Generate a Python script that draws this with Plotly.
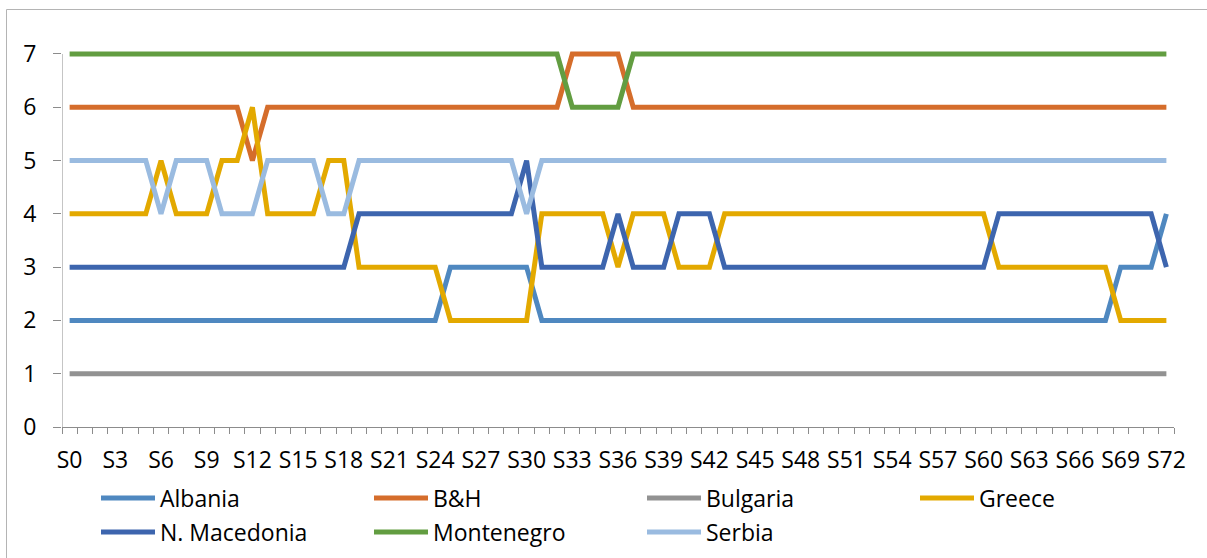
import plotly.graph_objects as go

# Session index and the category labels shown on the x axis
session_index = list(range(73))
session_labels = [f"S{i}" for i in session_index]
tick_index = session_index[::3]
tick_labels = session_labels[::3]

# Rank of each country per session (1 = lowest, 7 = highest)
albania = [2, 2, 2, 2, 2, 2, 2, 2, 2, 2, 2, 2, 2, 2, 2, 2, 2, 2, 2, 2,
           2, 2, 2, 2, 2, 3, 3, 3, 3, 3, 3, 2, 2, 2, 2, 2, 2, 2, 2, 2,
           2, 2, 2, 2, 2, 2, 2, 2, 2, 2, 2, 2, 2, 2, 2, 2, 2, 2, 2, 2,
           2, 2, 2, 2, 2, 2, 2, 2, 2, 3, 3, 3, 4]
bih = [6, 6, 6, 6, 6, 6, 6, 6, 6, 6, 6, 6, 5, 6, 6, 6, 6, 6, 6, 6,
       6, 6, 6, 6, 6, 6, 6, 6, 6, 6, 6, 6, 6, 7, 7, 7, 7, 6, 6, 6,
       6, 6, 6, 6, 6, 6, 6, 6, 6, 6, 6, 6, 6, 6, 6, 6, 6, 6, 6, 6,
       6, 6, 6, 6, 6, 6, 6, 6, 6, 6, 6, 6, 6]
bulgaria = [1, 1, 1, 1, 1, 1, 1, 1, 1, 1, 1, 1, 1, 1, 1, 1, 1, 1, 1, 1,
            1, 1, 1, 1, 1, 1, 1, 1, 1, 1, 1, 1, 1, 1, 1, 1, 1, 1, 1, 1,
            1, 1, 1, 1, 1, 1, 1, 1, 1, 1, 1, 1, 1, 1, 1, 1, 1, 1, 1, 1,
            1, 1, 1, 1, 1, 1, 1, 1, 1, 1, 1, 1, 1]
greece = [4, 4, 4, 4, 4, 4, 5, 4, 4, 4, 5, 5, 6, 4, 4, 4, 4, 5, 5, 3,
          3, 3, 3, 3, 3, 2, 2, 2, 2, 2, 2, 4, 4, 4, 4, 4, 3, 4, 4, 4,
          3, 3, 3, 4, 4, 4, 4, 4, 4, 4, 4, 4, 4, 4, 4, 4, 4, 4, 4, 4,
          4, 3, 3, 3, 3, 3, 3, 3, 3, 2, 2, 2, 2]
n_macedonia = [3, 3, 3, 3, 3, 3, 3, 3, 3, 3, 3, 3, 3, 3, 3, 3, 3, 3, 3, 4,
               4, 4, 4, 4, 4, 4, 4, 4, 4, 4, 5, 3, 3, 3, 3, 3, 4, 3, 3, 3,
               4, 4, 4, 3, 3, 3, 3, 3, 3, 3, 3, 3, 3, 3, 3, 3, 3, 3, 3, 3,
               3, 4, 4, 4, 4, 4, 4, 4, 4, 4, 4, 4, 3]
montenegro = [7, 7, 7, 7, 7, 7, 7, 7, 7, 7, 7, 7, 7, 7, 7, 7, 7, 7, 7, 7,
              7, 7, 7, 7, 7, 7, 7, 7, 7, 7, 7, 7, 7, 6, 6, 6, 6, 7, 7, 7,
              7, 7, 7, 7, 7, 7, 7, 7, 7, 7, 7, 7, 7, 7, 7, 7, 7, 7, 7, 7,
              7, 7, 7, 7, 7, 7, 7, 7, 7, 7, 7, 7, 7]
serbia = [5, 5, 5, 5, 5, 5, 4, 5, 5, 5, 4, 4, 4, 5, 5, 5, 5, 4, 4, 5,
          5, 5, 5, 5, 5, 5, 5, 5, 5, 5, 4, 5, 5, 5, 5, 5, 5, 5, 5, 5,
          5, 5, 5, 5, 5, 5, 5, 5, 5, 5, 5, 5, 5, 5, 5, 5, 5, 5, 5, 5,
          5, 5, 5, 5, 5, 5, 5, 5, 5, 5, 5, 5, 5]

countries = ["Albania", "B&H", "Bulgaria", "Greece",
             "N. Macedonia", "Montenegro", "Serbia"]
ranks = [albania, bih, bulgaria, greece, n_macedonia, montenegro, serbia]
colors = ["#4F88C0", "#D56D2B", "#929292", "#E3A900",
          "#3D65AE", "#629D41", "#9ABBE0"]
legend_of = ["legend", "legend", "legend", "legend",
             "legend2", "legend2", "legend2"]

FONT = "Open Sans"
AXIS_GREY = "#8C8C8C"
W, H = 1207, 558

fig = go.Figure()
for name, y, c, lg in zip(countries, ranks, colors, legend_of):
    fig.add_trace(go.Scatter(
        x=session_index, y=y, name=name, mode="lines",
        line=dict(color=c, width=5),
        legend=lg,
    ))

# vertical value axis line, from 0 up to the top rank only
fig.add_shape(type="line", xref="x", yref="y", x0=-0.5, x1=-0.5, y0=0, y1=7,
              line=dict(color=AXIS_GREY, width=1), layer="below")

# outer chart frame
fig.add_shape(type="rect", xref="paper", yref="paper",
              x0=(6.5 - 62) / 1112, x1=(1215 - 62) / 1112,
              y0=-(575 - 427) / 381, y1=(427 - 9.5) / 381,
              line=dict(color="#B4B4B4", width=1), fillcolor="rgba(0,0,0,0)",
              layer="below")

legend_common = dict(
    orientation="h", xref="container", yref="container",
    xanchor="left", yanchor="middle",
    font=dict(family=FONT, size=23, color="#000000"),
    itemwidth=54, entrywidth=204, entrywidthmode="pixels",
    bgcolor="rgba(0,0,0,0)", traceorder="normal",
)

fig.update_layout(
    width=W, height=H, autosize=False,
    margin=dict(l=62, r=33, t=46, b=131, pad=0, autoexpand=False),
    paper_bgcolor="white", plot_bgcolor="white",
    font=dict(family=FONT, size=23, color="#000000"),
    showlegend=True,
    legend=dict(legend_common, x=96 / W, y=1 - 498 / H),
    legend2=dict(legend_common, x=96 / W, y=1 - 532 / H),
    xaxis=dict(
        range=[-0.5, 72.5], tickmode="array", tickvals=tick_index,
        ticktext=tick_labels, ticks="", showgrid=False, zeroline=False,
        showline=True, linecolor=AXIS_GREY, linewidth=1,
        tickfont=dict(family=FONT, size=23, color="#000000"),
        ticklabelstandoff=12,
        minor=dict(tickmode="linear", tick0=-0.5, dtick=1, ticks="outside",
                   ticklen=6, tickcolor=AXIS_GREY, tickwidth=1, showgrid=False),
    ),
    yaxis=dict(
        range=[0, 7.15], tickmode="array", tickvals=[0, 1, 2, 3, 4, 5, 6, 7],
        ticks="outside", ticklen=8, tickcolor=AXIS_GREY, tickwidth=1,
        showgrid=False, zeroline=False, showline=False,
        tickfont=dict(family=FONT, size=23, color="#000000"),
        ticklabelstandoff=12,
    ),
)

fig.write_html("out.html")
